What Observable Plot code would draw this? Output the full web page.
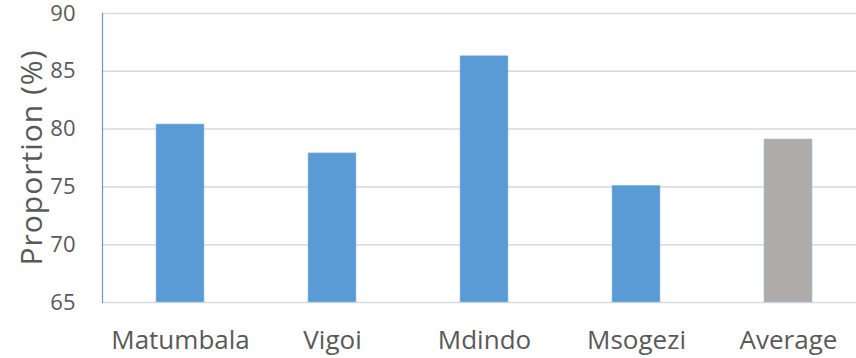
<!DOCTYPE html>
<html>
<head>
<meta charset="utf-8">
<script src="https://cdn.jsdelivr.net/npm/d3@7"></script>
<script src="https://cdn.jsdelivr.net/npm/@observablehq/plot@0.6"></script>
<style>
  html, body { margin: 0; padding: 0; background: #fff; overflow: hidden; }
  #chart { width: 856px; height: 358px; overflow: hidden; }
  #chart svg { overflow: visible; max-width: none !important; }
</style>
</head>
<body>
<div id="chart"></div>
<script>
const categories = ["Matumbala", "Vigoi", "Mdindo", "Msogezi", "Average"];
const proportions = [80.4, 77.9, 86.3, 75.1, 79.1];
const barColors = ["#5b9bd5", "#5b9bd5", "#5b9bd5", "#5b9bd5", "#afabab"];
const yTicks = [65, 70, 75, 80, 85, 90];

const data = categories.map((c, i) => ({ category: c, value: proportions[i], color: barColors[i] }));

const chart = Plot.plot({
  width: 866,
  height: 358,
  marginLeft: 102,
  marginRight: 0,
  marginTop: 13,
  marginBottom: 56,
  style: { fontFamily: "'Open Sans', sans-serif", color: "#595959", background: "#fff", maxWidth: "none" },
  x: { domain: categories, paddingInner: 0.686, paddingOuter: 0.343, label: null },
  y: { domain: [65, 90], ticks: yTicks, label: "Proportion (%)" },
  marks: [
    Plot.ruleY(yTicks, { stroke: "#d9d9d9", strokeWidth: 1.5 }),
    Plot.barY(data, { x: "category", y1: 65, y2: "value", fill: "color", stroke: "#9cc2e5", strokeWidth: 0.6 }),
    Plot.axisX({ tickSize: 0, tickPadding: 28, fontSize: 26, label: null }),
    Plot.axisY(yTicks, { tickSize: 0, tickPadding: 27, fontSize: 22, label: null }),
    Plot.frame({ anchor: "left", stroke: "#5b9bd5", strokeWidth: 1.2 })
  ]
});
chart.style.maxWidth = "none";
// rotated y-axis title
const svgNS = "http://www.w3.org/2000/svg";
const t = document.createElementNS(svgNS, "text");
t.setAttribute("transform", `translate(30,${(13 + 302) / 2}) rotate(-90)`);
t.setAttribute("text-anchor", "middle");
t.setAttribute("dominant-baseline", "central");
t.setAttribute("font-size", 30);
t.setAttribute("letter-spacing", "1");
t.setAttribute("fill", "#595959");
t.setAttribute("font-family", "'Open Sans', sans-serif");
t.textContent = "Proportion (%)";
chart.append(t);
document.getElementById("chart").append(chart);
</script>
</body>
</html>
